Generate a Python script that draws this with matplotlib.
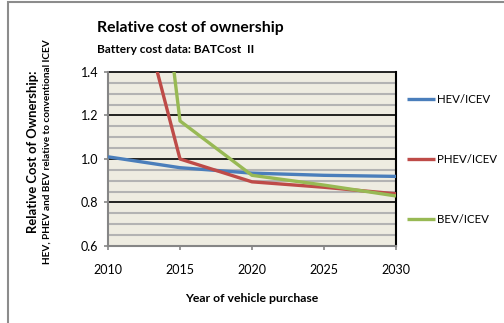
import numpy as np
import matplotlib
matplotlib.use("Agg")
import matplotlib.pyplot as plt
from matplotlib.patches import Rectangle

plt.rcParams['font.family'] = ['Lato', 'DejaVu Sans']

years = [2010, 2015, 2020, 2025, 2030]
hev = [1.01, 0.96, 0.935, 0.925, 0.92]
phev = [2.27, 1.00, 0.895, 0.87, 0.84]
bev = [3.90, 1.175, 0.925, 0.88, 0.83]
labels = ['HEV/ICEV', 'PHEV/ICEV', 'BEV/ICEV']
colors = ['#4A7EBB', '#BE4B48', '#98B954']

fig = plt.figure(figsize=(5.04, 3.23), dpi=100)
fig.patches.append(Rectangle((0.015, -0.1), 1.2, 1.093, transform=fig.transFigure,
                             fill=False, edgecolor='#8c8c8c', linewidth=1.5))

ax = fig.add_axes([0.2143, 0.2384, 0.5714, 0.5387])
ax.set_facecolor('#EEECE1')

# grid lines
for y in np.arange(0.65, 1.4, 0.05):
    if abs(round(y / 0.2) * 0.2 - y) > 1e-6:
        ax.axhline(y, color='#b3b3b3', linewidth=1.5, zorder=1)
for y in [0.8, 1.0, 1.2, 1.4]:
    ax.axhline(y, color='black', linewidth=1.2, zorder=1, clip_on=False)

handles = []
for vals, lab, c in zip([hev, phev, bev], labels, colors):
    h, = ax.plot(years, vals, color=c, linewidth=2.4, label=lab, zorder=3,
                 solid_capstyle='butt')
    handles.append(h)

ax.set_xlim(2010, 2030)
ax.set_ylim(0.6, 1.4)
ax.set_xticks([2010, 2015, 2020, 2025, 2030])
ax.set_yticks([0.6, 0.8, 1.0, 1.2, 1.4])
ax.set_yticklabels(['0.6', '0.8', '1.0', '1.2', '1.4'])
ax.tick_params(axis='both', direction='out', length=3, width=1.2,
               color='#868686', labelsize=9)
ax.tick_params(axis='x', pad=10)
ax.tick_params(axis='y', pad=4)

for s in ['left', 'bottom']:
    ax.spines[s].set_color('#868686')
    ax.spines[s].set_linewidth(1.5)
ax.spines['right'].set_color('black')
ax.spines['right'].set_linewidth(1.5)
ax.spines['top'].set_visible(False)

fig.text(0.193, 0.912, 'Relative cost of ownership', fontsize=11.3,
         fontweight='bold', va='center', ha='left')
fig.text(0.193, 0.848, 'Battery cost data: BATCost  II', fontsize=8.6,
         fontweight='bold', va='center', ha='left')

ax.set_xlabel('Year of vehicle purchase', fontsize=8.8, fontweight='bold', labelpad=12)
fig.text(0.066, 0.53, 'Relative Cost of Ownership:', rotation=90, fontsize=9.4,
         fontweight='bold', ha='center', va='center')
fig.text(0.094, 0.53, 'HEV, PHEV and BEV relative to conventional ICEV', rotation=90,
         fontsize=7.2, fontweight='bold', ha='center', va='center')

fig.legend(handles=handles, labels=labels, loc='center left',
           bbox_to_anchor=(0.808, 0.505), frameon=False, fontsize=8.3,
           borderpad=0, borderaxespad=0,
           handlelength=2.4, handletextpad=0.15, labelspacing=4.25)

fig.savefig('out.png', dpi=100)
